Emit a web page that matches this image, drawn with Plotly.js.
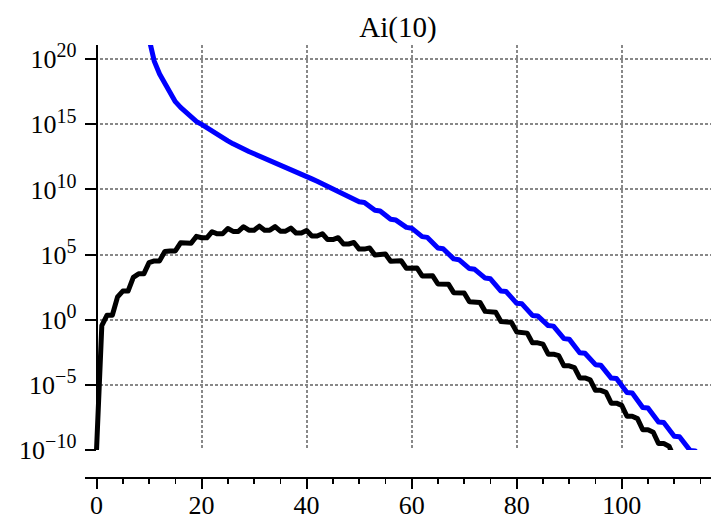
<!DOCTYPE html>
<html><head><meta charset="utf-8">
<script src="https://cdn.plot.ly/plotly-3.0.1.min.js"></script>
<style>html,body{margin:0;padding:0;background:#fff}#chart{width:711px;height:521px}
path.js-line{stroke-linejoin:round;stroke-linecap:round}</style>
</head><body><div id="chart"></div>
<script>
// n (number of terms) and log10 of the plotted quantity
const nBlack = [0,1,2,3,4,5,6,7,8,9,10,11,12,13,14,15,16,17,18,19,20,21,22,23,24,25,26,27,28,29,30,31,32,33,34,35,36,37,38,39,40,41,42,43,44,45,46,47,48,49,50,51,52,53,54,55,56,57,58,59,60,61,62,63,64,65,66,67,68,69,70,71,72,73,74,75,76,77,78,79,80,81,82,83,84,85,86,87,88,89,90,91,92,93,94,95,96,97,98,99,100,101,102,103,104,105,106,107,108,109,110,111,112];
const blackLog10 = [-9.957,-0.450,0.349,0.349,1.755,2.201,2.201,3.259,3.521,3.521,4.382,4.518,4.518,5.242,5.282,5.282,5.901,5.862,5.862,6.398,6.291,6.291,6.759,6.592,6.592,7.001,6.782,6.782,7.139,6.874,6.874,7.185,6.877,6.877,7.148,6.801,6.801,7.034,6.650,6.650,6.851,6.433,6.433,6.603,6.153,6.153,6.295,5.815,5.815,5.930,5.422,5.422,5.513,4.978,4.978,5.046,4.485,4.485,4.531,3.947,3.947,3.972,3.365,3.365,3.371,2.742,2.742,2.729,2.079,2.079,2.049,1.378,1.378,1.332,0.641,0.641,0.579,-0.130,-0.130,-0.208,-0.935,-0.935,-1.027,-1.773,-1.773,-1.878,-2.641,-2.641,-2.760,-3.539,-3.539,-3.671,-4.466,-4.466,-4.610,-5.421,-5.421,-5.578,-6.403,-6.403,-6.571,-7.411,-7.411,-7.591,-8.445,-8.445,-8.636,-9.504,-9.504,-9.705,-10.587,-10.587,-10.798];
const nBlue = [9,10,11,12,13,14,15,16,17,18,19,20,21,22,23,24,25,26,27,28,29,30,31,32,33,34,35,36,37,38,39,40,41,42,43,44,45,46,47,48,49,50,51,52,53,54,55,56,57,58,59,60,61,62,63,64,65,66,67,68,69,70,71,72,73,74,75,76,77,78,79,80,81,82,83,84,85,86,87,88,89,90,91,92,93,94,95,96,97,98,99,100,101,102,103,104,105,106,107,108,109,110,111,112,113,114,115];
const blueLog10 = [23.3,21.36,19.83,18.86,18.14,17.42,16.74,16.30,15.90,15.50,15.22,15.00,14.73,14.47,14.21,13.96,13.73,13.50,13.27,13.08,12.91,12.74,12.57,12.41,12.25,12.09,11.93,11.76,11.59,11.39,11.20,11.00,10.81,10.63,10.44,10.26,10.06,9.91,9.72,9.51,9.30,9.05,9.00,8.70,8.40,8.34,8.01,7.71,7.65,7.37,7.09,7.03,6.71,6.38,6.32,5.93,5.51,5.45,5.05,4.67,4.61,4.26,3.93,3.87,3.54,3.20,3.14,2.69,2.20,2.16,1.71,1.26,1.22,0.76,0.33,0.29,-0.08,-0.45,-0.49,-0.93,-1.45,-1.49,-2.02,-2.53,-2.57,-3.00,-3.45,-3.49,-3.97,-4.48,-4.52,-5.02,-5.59,-5.63,-6.19,-6.74,-6.78,-7.32,-7.85,-7.89,-8.41,-8.94,-8.98,-9.45,-10.03,-10.07,-10.6];
const xTickVals = [0,20,40,60,80,100];
const xTickText = ['0','20','40','60','80','100'];
const yTickVals = [1e-10,1e-5,1,1e5,1e10,1e15,1e20];
const yExponents = ['\u221210','\u22125','0','5','10','15','20'];
const titleText = 'Ai(10)';

const SUP = e => '10<sup><span style="font-size:20px">' + e + '</span></sup>';
const yTickText = yExponents.map(SUP);
const pow10 = a => a.map(v => Math.pow(10, v));
const FONT = "'Liberation Serif', 'Times New Roman', serif";
const grid = {showgrid:true, gridcolor:'#888888', gridwidth:2, griddash:'3px,2px'};

const traces = [
  {x:nBlue, y:pow10(blueLog10), type:'scatter', mode:'lines', line:{color:'#0000ff', width:5}, hoverinfo:'skip'},
  {x:nBlack, y:pow10(blackLog10), type:'scatter', mode:'lines', line:{color:'#000000', width:5}, hoverinfo:'skip'}
];

const layout = {
  width:711, height:521,
  margin:{l:85, r:0, t:45, b:43, pad:0},
  paper_bgcolor:'#fff', plot_bgcolor:'#fff',
  showlegend:false,
  title:{text:titleText, x:0.5, xref:'paper', xanchor:'center', y:1-27/521, yref:'container', yanchor:'middle',
         font:{family:FONT, size:29, color:'#000'}},
  xaxis:Object.assign({
    range:[-2.2, 117], domain:[0,1], anchor:'free', position:0,
    showline:true, linecolor:'#000', linewidth:2, zeroline:false,
    tickmode:'array', tickvals:xTickVals, ticktext:xTickText,
    ticks:'outside', ticklen:10, tickwidth:2, tickcolor:'#000',
    ticklabelstandoff:-6,
    tickfont:{family:FONT, size:26, color:'#000'},
    minor:{dtick:5, tick0:0, ticks:'outside', ticklen:5, tickwidth:1.5, tickcolor:'#000', showgrid:false}
  }, grid),
  yaxis:Object.assign({
    type:'log', range:[-10, 21.09], domain:[28/433, 1], anchor:'free', position:11.6/626,
    showline:true, linecolor:'#000', linewidth:2, zeroline:false,
    tickmode:'array', tickvals:yTickVals, ticktext:yTickText,
    ticks:'outside', ticklen:11, tickwidth:2, tickcolor:'#000',
    ticklabelstandoff:3,
    tickfont:{family:FONT, size:26, color:'#000'}
  }, grid)
};

Plotly.newPlot('chart', traces, layout, {displayModeBar:false, staticPlot:true});
</script>
</body></html>
